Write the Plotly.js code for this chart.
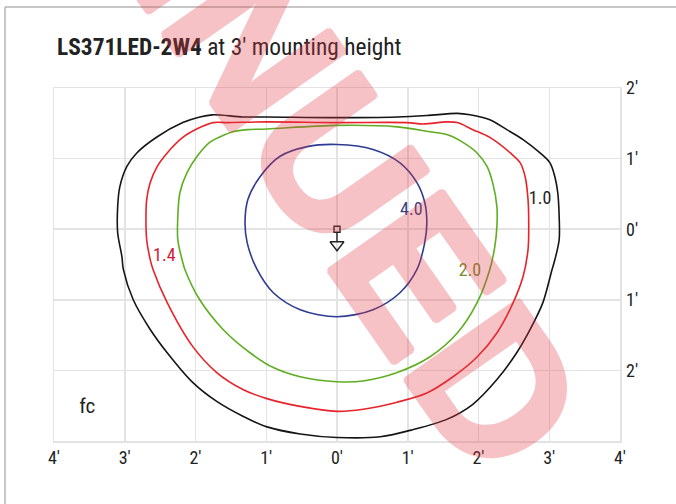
<!DOCTYPE html>
<html><head><meta charset="utf-8">
<script src="https://cdn.plot.ly/plotly-3.0.1.min.js"></script>
<style>html,body{margin:0;padding:0;background:#fff;} #chart{width:676px;height:504px;}</style>
</head><body><div id="chart"></div>
<script>
const xTickVals = [-4,-3,-2,-1,0,1,2,3,4];
const xTickText = ["4'","3'","2'","1'","0'","1'","2'","3'","4'"];
const yTickVals = [2,1,0,-1,-2];
const yTickText = ["2'","1'","0'","1'","2'"];

// 1.0 fc contour
const fc10X = [0,-0.99,-1.33,-1.76,-1.94,-2.18,-2.54,-2.83,-2.97,-3.07,-3.10,-3.10,-3.04,-3.02,-2.88,-2.64,-2.40,-2.04,-1.70,-1.33,-0.99,-0.52,0,0.61,1.07,1.56,1.92,2.26,2.54,2.73,2.91,3.04,3.08,3.14,3.14,3.12,3.08,3.01,2.87,2.63,2.40,2.16,1.88,1.70,1.27,0.85,0];
const fc10Y = [1.58,1.59,1.59,1.62,1.59,1.51,1.31,1.08,0.89,0.60,0.32,-0.05,-0.39,-0.57,-1.00,-1.42,-1.75,-2.17,-2.44,-2.65,-2.80,-2.90,-2.95,-2.94,-2.84,-2.69,-2.48,-2.13,-1.75,-1.42,-1.04,-0.57,-0.43,-0.15,0.18,0.52,0.74,0.94,1.08,1.27,1.41,1.55,1.62,1.64,1.61,1.59,1.58];
// 1.4 fc contour
const fc14X = [0,-0.99,-1.55,-1.75,-1.94,-2.18,-2.40,-2.54,-2.64,-2.69,-2.70,-2.69,-2.64,-2.60,-2.40,-2.04,-1.70,-1.33,-0.99,-0.52,0,0.37,0.85,1.27,1.64,1.98,2.26,2.49,2.63,2.70,2.71,2.70,2.66,2.59,2.45,2.16,1.92,1.70,1.55,1.22,0.99,0];
const fc14Y = [1.51,1.52,1.51,1.51,1.44,1.30,1.08,0.89,0.66,0.42,0.18,-0.15,-0.43,-0.57,-1.04,-1.66,-2.03,-2.27,-2.40,-2.51,-2.58,-2.55,-2.45,-2.32,-2.09,-1.81,-1.47,-1.04,-0.67,-0.29,0.04,0.42,0.74,0.94,1.08,1.30,1.41,1.51,1.52,1.49,1.51,1.51];
// 2.0 fc contour
const fc20X = [0,-0.99,-1.27,-1.47,-1.65,-1.80,-1.98,-2.12,-2.22,-2.25,-2.25,-2.18,-2.15,-1.94,-1.61,-1.23,-0.90,-0.52,0,0.37,0.85,1.31,1.70,1.98,2.16,2.23,2.26,2.26,2.20,2.12,1.98,1.78,1.55,1.31,0.85,0];
const fc20Y = [1.47,1.42,1.41,1.38,1.31,1.23,1.03,0.80,0.52,0.18,-0.15,-0.47,-0.57,-1.00,-1.42,-1.75,-1.96,-2.09,-2.16,-2.15,-2.03,-1.81,-1.47,-1.04,-0.57,-0.25,0.04,0.32,0.66,0.89,1.08,1.23,1.34,1.38,1.45,1.47];
// 4.0 fc contour
const fc40X = [0,0.51,0.89,1.13,1.24,1.27,1.24,1.13,0.89,0.51,0,-0.52,-0.90,-1.13,-1.27,-1.30,-1.26,-1.09,-0.81,-0.42,0];
const fc40Y = [1.20,1.13,0.94,0.66,0.38,0.09,-0.19,-0.57,-0.90,-1.14,-1.24,-1.14,-0.90,-0.57,-0.19,0.09,0.42,0.74,1.03,1.17,1.20];

const labelText = ["1.0","1.4","2.0","4.0"];
const labelX = [2.87,-2.44,1.88,1.05];
const labelY = [0.42,-0.39,-0.60,0.26];

const FONT = "'Liberation Sans Narrow', 'Arial Narrow', 'Roboto Condensed', 'Liberation Sans', sans-serif";
const WM = '#e43a44';

function contour(x, y, color) {
  return {x: x, y: y, type: 'scatter', mode: 'lines', hoverinfo: 'skip',
    line: {color: color, width: 1.6, shape: 'spline', smoothing: 0.9}};
}

const traces = [
  contour(fc10X, fc10Y, '#151515'),
  contour(fc14X, fc14Y, '#e8222a'),
  contour(fc20X, fc20Y, '#5fae22'),
  contour(fc40X, fc40Y, '#2e3b92'),
  {x: labelX, y: labelY, text: labelText, type: 'scatter', mode: 'text',
   textfont: {family: FONT, size: 18, color: ['#222222','#d3163a','#7c8a2c','#3b3e80']}, hoverinfo: 'skip'},
  {x: [0,0], y: [-0.05,-0.18], type: 'scatter', mode: 'lines', line: {color: '#222', width: 1.4}, hoverinfo: 'skip'},
  {x: [0], y: [0], type: 'scatter', mode: 'markers', marker: {symbol: 'square-open', size: 6, color: '#222', line: {width: 1.4, color: '#222'}}, hoverinfo: 'skip'},
  {x: [0], y: [-0.22], type: 'scatter', mode: 'markers', marker: {symbol: 'triangle-down-open', size: 12, color: '#222', line: {width: 1.4, color: '#222'}}, hoverinfo: 'skip'},
  {x: [-3.53], y: [-2.53], text: ['fc'], type: 'scatter', mode: 'text', textfont: {family: FONT, size: 21, color: '#222'}, hoverinfo: 'skip'}
];

const axisCommon = {
  showgrid: true, gridcolor: '#e3e3e3', gridwidth: 1.5, zeroline: false,
  showline: true, mirror: true, linecolor: '#e3e3e3', linewidth: 1.5,
  ticks: '', tickfont: {family: FONT, size: 18, color: '#222'}, fixedrange: true
};

const layout = {
  width: 676, height: 504,
  margin: {l: 54, r: 56, t: 88, b: 63},
  paper_bgcolor: '#fff', plot_bgcolor: '#fff',
  showlegend: false,
  title: {text: "<b>LS371LED-2W4</b> at 3' mounting height", x: 57/676, xanchor: 'left', xref: 'container',
          y: 1 - 47/504, yref: 'container', yanchor: 'middle', font: {family: FONT, size: 23.4, color: '#222'}},
  xaxis: Object.assign({}, axisCommon, {range: [-4,4], tickvals: xTickVals, ticktext: xTickText, ticklabelstandoff: 0}),
  yaxis: Object.assign({}, axisCommon, {range: [-3,2], side: 'right', tickvals: yTickVals, ticktext: yTickText, ticklabelstandoff: 1}),
  shapes: [
    {type: 'line', xref: 'paper', yref: 'paper', x0: -0.0866, x1: -0.0866, y0: 1.2295, y1: -0.3, line: {color: '#b5b5b5', width: 1.5}},
    {type: 'line', xref: 'paper', yref: 'paper', x0: -0.0866, x1: 1.2, y0: 1.2295, y1: 1.2295, line: {color: '#b5b5b5', width: 1.5}}
  ],
  annotations: [
    {text: '<b>DISCONTINUED</b>', xref: 'paper', yref: 'paper', x: 0.083, y: 1.748, xanchor: 'center', yanchor: 'middle',
     showarrow: false, textangle: 55, opacity: 0.3,
     font: {family: "'Liberation Sans', Arial, sans-serif", size: 200, weight: 'bold', color: WM,
            shadow: `3px 0 ${WM}, -3px 0 ${WM}, 0 3px ${WM}, 0 -3px ${WM}, 2px 2px ${WM}, -2px -2px ${WM}, 2px -2px ${WM}, -2px 2px ${WM}`}}
  ]
};

Plotly.newPlot('chart', traces, layout, {displayModeBar: false, staticPlot: true});
</script>
</body></html>
